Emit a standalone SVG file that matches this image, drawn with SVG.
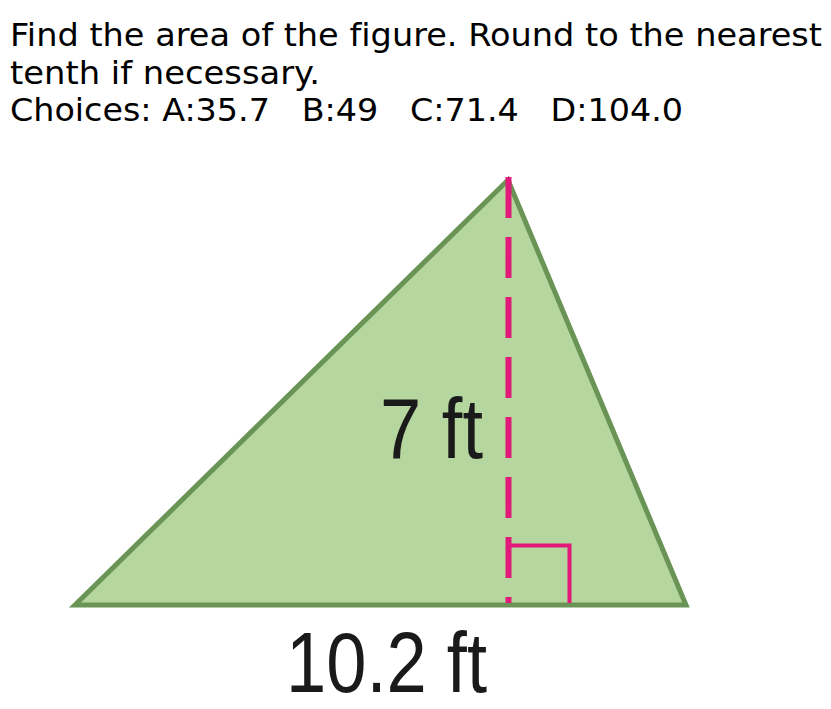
<svg xmlns="http://www.w3.org/2000/svg" width="831" height="709" viewBox="0 0 831 709">
<style>
.q{font-family:"DejaVu Sans",sans-serif;font-size:32.5px;fill:#000;font-variant-ligatures:none}
.lbl{font-family:"Liberation Sans",Arial,sans-serif;font-size:86px;fill:#1a1a1a}
</style>
<rect width="831" height="709" fill="#fff"/>
<g id="question">
<text class="q" x="10" y="46" textLength="812" lengthAdjust="spacingAndGlyphs">Find the area of the figure. Round to the nearest</text>
<text class="q" x="10" y="84" textLength="310" lengthAdjust="spacingAndGlyphs">tenth if necessary.</text>
<text class="q" x="10" y="121" textLength="673" lengthAdjust="spacingAndGlyphs" xml:space="preserve">Choices: A:35.7   B:49   C:71.4   D:104.0</text>
</g>
<g id="triangle">
<polygon points="75,605 508,180 686,605" fill="#b5d69e" stroke="#6a9455" stroke-width="5" stroke-linejoin="miter"/>
</g>
<g id="connectors">
<line x1="508.5" y1="177" x2="508.5" y2="603" stroke="#e0197a" stroke-width="6" stroke-dasharray="41 19"/>
<polyline points="508.5,545.5 569.5,545.5 569.5,603" fill="none" stroke="#e0197a" stroke-width="4"/>
</g>
<g id="labels">
<text class="lbl" x="380" y="458" textLength="103" lengthAdjust="spacingAndGlyphs">7 ft</text>
<text class="lbl" x="286" y="692" textLength="201" lengthAdjust="spacingAndGlyphs">10.2 ft</text>
</g>
</svg>
